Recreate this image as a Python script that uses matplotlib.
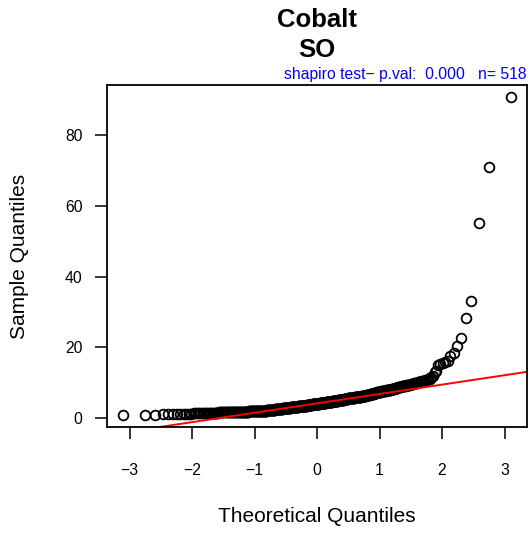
import numpy as np
import matplotlib
matplotlib.use("Agg")
import matplotlib.pyplot as plt
from statistics import NormalDist

plt.rcParams['font.family'] = ['Liberation Sans', 'DejaVu Sans']

# sorted sample values (Cobalt, SO) as value / count pairs
sample_values = [0.9, 1.0, 1.1, 1.2, 1.3, 1.4, 1.5, 1.6, 1.7, 1.8, 1.9, 2.0,
                 2.1, 2.2, 2.3, 2.4, 2.5, 2.6, 2.7, 2.8, 2.9, 3.0, 3.1, 3.2, 3.3,
                 3.4, 3.5, 3.6, 3.7, 3.8, 3.9, 4.0, 4.1, 4.2, 4.3, 4.4, 4.5, 4.6,
                 4.7, 4.8, 4.9, 5.0, 5.1, 5.2, 5.3, 5.4, 5.5, 5.6, 5.7, 5.8, 5.9,
                 6.0, 6.1, 6.2, 6.3, 6.4, 6.5, 6.6, 6.7, 6.8, 6.9, 7.0, 7.1, 7.2,
                 7.3, 7.4, 7.5, 7.6, 7.7, 7.8, 7.9, 8.0, 8.1, 8.2, 8.3, 8.4, 8.5,
                 8.6, 8.7, 8.8, 8.9, 9.0, 9.1, 9.2, 9.3, 9.4, 9.5, 9.6, 9.7, 9.8,
                 9.9, 10.0, 10.1, 10.2, 10.3, 10.4, 10.5, 10.6, 10.8, 10.9, 11.0,
                 11.2, 11.6, 12.0, 13.0, 13.5, 15.0, 15.3, 15.6, 15.9, 16.3, 17.5,
                 18.4, 20.4, 22.8, 28.2, 33.1, 55.1, 71.0, 90.9]
sample_counts = [1, 2, 3, 3, 3, 6, 6, 6, 15, 13, 13, 18,
                 10, 10, 11, 10, 7, 7, 7, 7, 8, 8, 8, 8, 8,
                 9, 9, 9, 9, 9, 9, 8, 7, 7, 7, 7, 7, 7,
                 7, 6, 6, 6, 6, 6, 6, 6, 6, 6, 6, 7, 7,
                 6, 5, 5, 4, 3, 3, 3, 3, 3, 3, 3, 3, 3,
                 3, 3, 3, 3, 3, 3, 3, 3, 3, 2, 2, 2, 2,
                 2, 2, 2, 1, 2, 2, 2, 2, 1, 2, 1, 1, 1,
                 1, 2, 1, 1, 2, 1, 1, 1, 1, 1, 1,
                 1, 1, 1, 1, 1, 1, 1, 1, 1, 1, 1,
                 1, 1, 1, 1, 1, 1, 1, 1]

title_lines = ["Cobalt", "SO"]
subtitle = "shapiro test\u2212 p.val:  0.000   n= 518"
x_ticks = [-3, -2, -1, 0, 1, 2, 3]
y_ticks = [0, 20, 40, 60, 80]

y = np.repeat(np.array(sample_values), sample_counts)
n = len(y)
nd = NormalDist()
p = (np.arange(1, n + 1) - 0.5) / n
x = np.array([nd.inv_cdf(v) for v in p])

# qqline through the quartiles
yq = np.quantile(y, [0.25, 0.75])
xq = np.array([nd.inv_cdf(0.25), nd.inv_cdf(0.75)])
slope = (yq[1] - yq[0]) / (xq[1] - xq[0])
intercept = yq[0] - slope * xq[0]

W, H = 531, 533
fig = plt.figure(figsize=(W / 100, H / 100), dpi=100)
ax = fig.add_axes([107 / W, 1 - 427 / H, 420 / W, 342 / H])

ax.plot(x, y, linestyle='none', marker='o', markersize=7.0,
        markerfacecolor='none', markeredgecolor='black', markeredgewidth=1.3)
ax.axline((0, intercept), slope=slope, color='red', linewidth=1.4)

ax.set_xlim(-3.36, 3.36)
ax.set_ylim(-2.46, 94.15)
ax.set_xticks(x_ticks)
ax.set_yticks(y_ticks)
ax.set_xticklabels([str(t).replace('-', '\u2212') for t in x_ticks])
ax.set_yticklabels([str(t) for t in y_ticks])
for s in ax.spines.values():
    s.set_linewidth(1.3)
ax.tick_params(axis='both', length=8.6, width=1.1, labelsize=11.3, direction='out')
ax.tick_params(axis='x', pad=17)
ax.tick_params(axis='y', pad=9)

fig.text(317 / W, 1 - 26.7 / H, title_lines[0], ha='center', va='baseline',
         fontsize=18.5, fontweight='bold')
fig.text(317 / W, 1 - 56.7 / H, title_lines[1], ha='center', va='baseline',
         fontsize=18.5, fontweight='bold')
fig.text(526 / W, 1 - 79 / H, subtitle, ha='right', va='baseline',
         fontsize=11.3, color='blue')
fig.text(317 / W, 1 - 517 / H, "Theoretical Quantiles", ha='center', va='center',
         fontsize=15)
fig.text(20 / W, 1 - 256 / H, "Sample Quantiles", ha='center', va='center',
         rotation=90, fontsize=15)

fig.savefig("out.png", dpi=100)
